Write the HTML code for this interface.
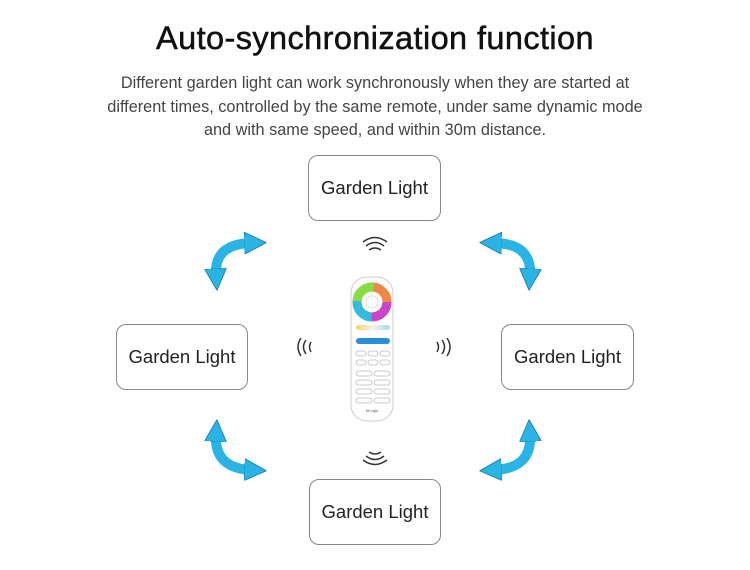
<!DOCTYPE html>
<html><head><meta charset="utf-8"><style>
body{margin:0;width:750px;height:570px;background:#fff;position:relative;overflow:hidden;font-family:"Liberation Sans",sans-serif}
h1{position:absolute;top:20px;left:0;width:750px;text-align:center;margin:0;font-size:32.5px;font-weight:normal;color:#111;letter-spacing:0.4px;-webkit-text-stroke:0.5px #111}
.p{position:absolute;top:72px;left:0;width:750px;text-align:center;font-size:16.3px;line-height:23.5px;color:#444}
.b{position:absolute;width:131px;height:64px;border:1.3px solid #888;border-radius:10px;box-sizing:border-box;display:flex;align-items:center;justify-content:center;font-size:18.5px;color:#222}
</style></head><body>
<h1>Auto-synchronization function</h1>
<div class="p">Different garden light can work synchronously when they are started at<br>different times, controlled by the same remote, under same dynamic mode<br>and with same speed, and within 30m distance.</div>
<div class="b" style="left:308px;top:155px;width:133px;height:66px">Garden Light</div>
<div class="b" style="left:116px;top:324px;width:132px;height:66px">Garden Light</div>
<div class="b" style="left:501px;top:324px;width:133px;height:66px">Garden Light</div>
<div class="b" style="left:309px;top:479px;width:132px;height:66px">Garden Light</div>
<svg width="750" height="570" style="position:absolute;left:0;top:0">
<defs>
<marker id="m" viewBox="0 0 10 10" refX="3" refY="5" markerWidth="22" markerHeight="22" markerUnits="userSpaceOnUse" orient="auto-start-reverse"><path d="M0,0 L10,5 L0,10 Z" fill="#2ab4e6" stroke="#1b7fae" stroke-width="0.4"/></marker>
<linearGradient id="wh" x1="0" x2="1"><stop offset="0" stop-color="#f5d36a"/><stop offset="0.5" stop-color="#f7f3e8"/><stop offset="1" stop-color="#9fdcf2"/></linearGradient>
</defs>
<g fill="none" stroke="#2ab4e6" stroke-width="10" marker-start="url(#m)" marker-end="url(#m)">
<path d="M216,275 Q214,244 251,243"/>
<path d="M495,243 Q532,244 530,275"/>
<path d="M216,435 Q214,468 251,470"/>
<path d="M530,435 Q532,468 495,470"/>
</g>
<g fill="none" stroke="#333" stroke-width="1.5">
<path d="M366,246 Q375,239 384,246"/><path d="M363,242 Q375,233 387,242"/><path d="M369,250 Q375,246 381,250"/>
<path d="M366,456 Q375,463 384,456"/><path d="M363,460 Q375,469 387,460"/><path d="M369,452 Q375,456 381,452"/>
<path d="M301,338 Q295,347 301,356"/><path d="M306,340 Q301,347 306,354"/><path d="M311,342 Q308,347 311,352"/>
<path d="M447,338 Q453,347 447,356"/><path d="M442,340 Q447,347 442,354"/><path d="M437,342 Q440,347 437,352"/>
</g>
<rect x="351" y="277" width="42" height="144" rx="16" fill="#fff" stroke="#ccc"/>
<circle cx="372" cy="302" r="15" fill="none" stroke="#e84" stroke-width="9"/>
<circle cx="372" cy="302" r="15" fill="none" stroke="#c4c" stroke-width="9" stroke-dasharray="24 70"/>
<circle cx="372" cy="302" r="15" fill="none" stroke="#3bd" stroke-width="9" stroke-dasharray="24 70" stroke-dashoffset="-24"/>
<circle cx="372" cy="302" r="15" fill="none" stroke="#8d4" stroke-width="9" stroke-dasharray="24 70" stroke-dashoffset="-48"/>
<circle cx="372" cy="302" r="6" fill="#fff" stroke="#ddd"/>
<rect x="356" y="325" width="34" height="5" rx="2.5" fill="url(#wh)"/>
<rect x="356" y="338" width="34" height="6" rx="3" fill="#2a8fd6"/>
<g fill="none" stroke="#bbb" stroke-width="0.8">
<rect x="356" y="351" width="10" height="5" rx="2.5"/><rect x="368" y="351" width="10" height="5" rx="2.5"/><rect x="380" y="351" width="10" height="5" rx="2.5"/>
<rect x="356" y="360" width="10" height="5" rx="2.5"/><rect x="368" y="360" width="10" height="5" rx="2.5"/><rect x="380" y="360" width="10" height="5" rx="2.5"/>
<rect x="356" y="371" width="16" height="5" rx="2.5"/><rect x="374" y="371" width="16" height="5" rx="2.5"/>
<rect x="356" y="380" width="16" height="5" rx="2.5"/><rect x="374" y="380" width="16" height="5" rx="2.5"/>
<rect x="356" y="389" width="16" height="5" rx="2.5"/><rect x="374" y="389" width="16" height="5" rx="2.5"/>
<rect x="356" y="398" width="16" height="5" rx="2.5"/><rect x="374" y="398" width="16" height="5" rx="2.5"/>
</g>
<text x="372" y="412" font-size="3.5" text-anchor="middle" fill="#555" font-family="Liberation Sans">Mi·Light</text>
</svg>
</body></html>
